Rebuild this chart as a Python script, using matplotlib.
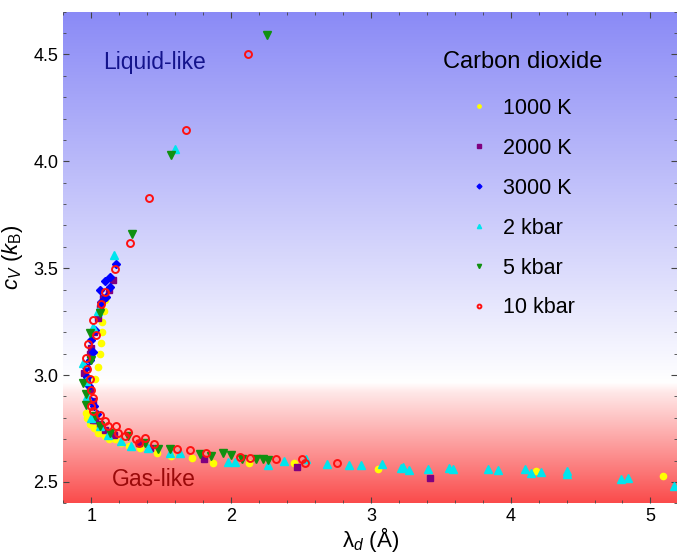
import numpy as np
import matplotlib
matplotlib.use('Agg')
import matplotlib.pyplot as plt
from matplotlib.ticker import MultipleLocator

plt.rcParams['font.family'] = ['Liberation Sans', 'DejaVu Sans']
plt.rcParams['mathtext.fontset'] = 'custom'
plt.rcParams['mathtext.rm'] = 'Liberation Sans'
plt.rcParams['mathtext.it'] = 'Liberation Sans:italic'

# lambda_d (A) and c_V (k_B) for each series
x_1000K = [1.10, 1.09, 1.08, 1.075, 1.07, 1.06, 1.05, 1.03, 1.00, 0.98, 0.96, 0.97, 0.99, 1.02, 1.05,
           1.07, 1.10, 1.13, 1.17, 1.21, 1.27, 1.35, 1.47, 1.57, 1.72, 1.87, 2.13, 2.45, 3.05, 4.18, 5.09]
y_1000K = [3.35, 3.30, 3.25, 3.20, 3.15, 3.10, 3.04, 2.98, 2.93, 2.885, 2.823, 2.80, 2.77, 2.75, 2.73,
           2.73, 2.715, 2.70, 2.699, 2.68, 2.67, 2.66, 2.637, 2.621, 2.61, 2.59, 2.587, 2.59, 2.562, 2.551, 2.527]

x_2000K = [1.155, 1.13, 1.083, 1.06, 1.047, 1.02, 1.0, 0.99, 0.96, 0.95, 0.97, 0.988, 1.01,
           1.024, 1.011, 1.06, 1.095, 1.16, 1.345, 1.417, 1.81, 2.47, 3.42]
y_2000K = [3.447, 3.40, 3.359, 3.312, 3.266, 3.20, 3.126, 3.10, 3.04, 3.01, 2.98, 2.93, 2.88,
           2.792, 2.792, 2.77, 2.745, 2.72, 2.683, 2.66, 2.606, 2.57, 2.52]

x_3000K = [1.18, 1.131, 1.095, 1.131, 1.059, 1.107, 1.072, 1.024, 1.0, 1.011, 0.99, 0.964,
           0.97, 0.985, 1.0, 1.02, 1.04]
y_3000K = [3.52, 3.46, 3.44, 3.413, 3.40, 3.366, 3.343, 3.211, 3.165, 3.11, 3.07, 3.04,
           2.99, 2.95, 2.88, 2.854, 2.82]

x_2kbar = [1.60, 1.16, 1.05, 1.016, 0.94, 0.96, 0.97, 1.0, 1.059, 1.12, 1.215, 1.286, 1.405,
           1.56, 1.632, 1.977, 2.025, 2.263, 2.376, 2.538, 2.688, 2.843, 2.926, 3.079,
           3.217, 3.229, 3.272, 3.408, 3.556, 3.587, 3.835, 3.906, 4.102, 4.147, 4.214,
           4.405, 4.405, 4.791, 4.843, 5.165]
y_2kbar = [4.058, 3.56, 3.30, 3.227, 3.056, 2.97, 2.90, 2.80, 2.761, 2.72, 2.691, 2.668, 2.66,
           2.637, 2.634, 2.593, 2.593, 2.581, 2.598, 2.606, 2.582, 2.581, 2.579, 2.584,
           2.567, 2.572, 2.554, 2.559, 2.567, 2.559, 2.559, 2.554, 2.559, 2.544, 2.548,
           2.551, 2.539, 2.513, 2.517, 2.481]

x_5kbar = [2.26, 1.567, 1.29, 1.059, 0.988, 1.0, 0.94, 0.964, 0.96, 1.024, 1.06, 1.131, 1.262,
           1.381, 1.476, 1.56, 1.775, 1.858, 1.942, 2.001, 2.08, 2.175, 2.227, 2.263]
y_5kbar = [4.589, 4.03, 3.66, 3.292, 3.196, 3.07, 2.963, 2.91, 2.86, 2.807, 2.76, 2.73, 2.714,
           2.683, 2.652, 2.655, 2.629, 2.621, 2.634, 2.624, 2.606, 2.609, 2.606, 2.602]

x_10kbar = [2.12, 1.675, 1.41, 1.275, 1.167, 1.095, 1.072, 1.011, 1.031, 0.976, 0.959, 0.97,
            0.99, 1.0, 1.011, 1.0, 1.011, 1.059, 1.095, 1.119, 1.179, 1.19, 1.238, 1.262,
            1.317, 1.345, 1.381, 1.448, 1.612, 1.703, 1.822, 2.061, 2.132, 2.318, 2.507,
            2.526, 2.76]
y_10kbar = [4.50, 4.147, 3.83, 3.62, 3.495, 3.39, 3.332, 3.258, 3.188, 3.146, 3.079, 3.03,
            2.98, 2.93, 2.893, 2.854, 2.83, 2.815, 2.784, 2.761, 2.761, 2.73, 2.714, 2.733,
            2.702, 2.683, 2.707, 2.679, 2.652, 2.649, 2.637, 2.616, 2.61, 2.609, 2.606,
            2.587, 2.59]

fig = plt.figure(figsize=(6.77, 5.56), dpi=100)
ax = fig.add_axes([63.3 / 677, 1 - 503.3 / 556, (677 - 63.3) / 677, (503.3 - 11.7) / 556])

# background: red (gas-like) at bottom, white near 2.95, blue (liquid-like) on top
n = 600
f = np.linspace(0, 1, n)
bg = np.ones((n, 3))
red_lo = np.array([250, 75, 75]) / 255
red_hi = np.array([255, 232, 232]) / 255
blue_top = np.array([138, 138, 246]) / 255
w1, w2 = 0.225, 0.245
for i, t in enumerate(f):
    if t < w1:
        bg[i] = red_lo + (red_hi - red_lo) * (t / w1)
    elif t < w2:
        bg[i] = red_hi + (np.ones(3) - red_hi) * ((t - w1) / (w2 - w1))
    else:
        bg[i] = np.ones(3) + (blue_top - np.ones(3)) * ((t - w2) / (1 - w2))
ax.imshow(bg[:, None, :], extent=[0, 1, 0, 1], transform=ax.transAxes,
          origin='lower', aspect='auto', zorder=0, interpolation='bilinear')

ms = 4.5
ax.plot(x_1000K, y_1000K, ls='none', marker='o', ms=ms, color='#ffff00', label='1000 K', zorder=2)
ax.plot(x_2000K, y_2000K, ls='none', marker='s', ms=ms, color='#800080', label='2000 K', zorder=2)
ax.plot(x_3000K, y_3000K, ls='none', marker='D', ms=ms, color='#0000ff', label='3000 K', zorder=2)
ax.plot(x_2kbar, y_2kbar, ls='none', marker='^', ms=ms + 1, color='#00e5ee', label='2 kbar', zorder=2)
ax.plot(x_5kbar, y_5kbar, ls='none', marker='v', ms=ms + 1, color='#109010', label='5 kbar', zorder=2)
ax.plot(x_10kbar, y_10kbar, ls='none', marker='o', ms=ms + 0.5, mfc='none', mec='#ff1010',
        mew=1.4, label='10 kbar', zorder=3)

ax.set_xlim(0.8, 5.19)
ax.set_ylim(2.4, 4.7)
ax.xaxis.set_major_locator(MultipleLocator(1))
ax.xaxis.set_minor_locator(MultipleLocator(0.2))
ax.yaxis.set_major_locator(MultipleLocator(0.5))
ax.yaxis.set_minor_locator(MultipleLocator(0.1))
ax.set_yticks([2.5, 3.0, 3.5, 4.0, 4.5])
ax.set_yticklabels(['2.5', '3.0', '3.5', '4.0', '4.5'])
ax.tick_params(which='both', direction='in', top=True, right=True, color='#444444', labelsize=13)
ax.tick_params(which='major', length=4)
ax.tick_params(which='minor', length=2.5)
for s in ax.spines.values():
    s.set_visible(False)

ax.set_xlabel('λ$_d$ (Å)', fontsize=16, labelpad=0)
ax.set_ylabel(r'$c_V$ ($k_{\rm B}$)', fontsize=16, labelpad=6)

ax.text(1.084, 4.464, 'Liquid-like', color='#14148c', fontsize=16.5, va='center', ha='left')
ax.text(1.149, 2.513, 'Gas-like', color='#9a0a0a', fontsize=16.5, va='center', ha='left')

leg = ax.legend(title='Carbon dioxide', loc='upper right', bbox_to_anchor=(0.91, 0.96),
                frameon=False, fontsize=15.5, markerscale=0.55, handlelength=0.8,
                handletextpad=0.7, labelspacing=0.88)
leg.get_title().set_fontsize(17)
leg._legend_box.sep = 18

fig.savefig('out.png', dpi=100)
